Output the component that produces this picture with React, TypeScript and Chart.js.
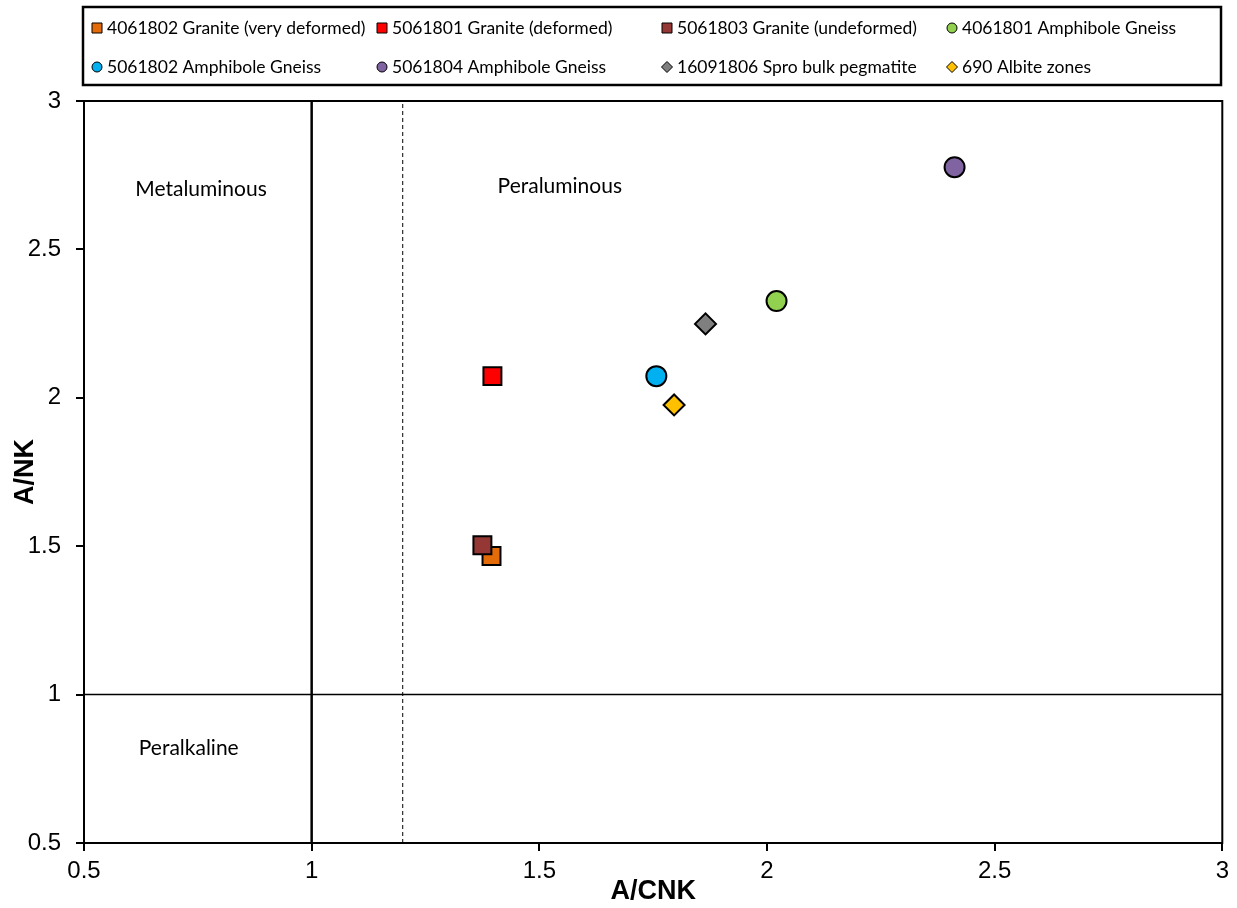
import React, { useEffect, useRef } from "react";
import { Chart, registerables } from "chart.js";

Chart.register(...registerables);

// ---- data ----
const seriesNames = [
  "4061802 Granite (very deformed)",
  "5061801 Granite (deformed)",
  "5061803 Granite (undeformed)",
  "4061801 Amphibole Gneiss",
  "5061802 Amphibole Gneiss",
  "5061804 Amphibole Gneiss",
  "16091806 Spro bulk pegmatite",
  "690 Albite zones",
];
const seriesX = [1.395, 1.397, 1.375, 2.021, 1.757, 2.412, 1.865, 1.796];
const seriesY = [1.467, 2.073, 1.503, 2.326, 2.073, 2.777, 2.249, 1.976];
const seriesColors = ["#E36C09", "#FF0000", "#953735", "#92D050", "#00B0F0", "#8064A2", "#7F7F7F", "#FFC000"];
const seriesShapes = ["rect", "rect", "rect", "circle", "circle", "circle", "rectRot", "rectRot"];
const seriesOrder = [1, 1, 0, 1, 1, 1, 1, 1];

const xTicks = [0.5, 1, 1.5, 2, 2.5, 3];
const yTicks = [0.5, 1, 1.5, 2, 2.5, 3];
const xTickLabels = ["0.5", "1", "1.5", "2", "2.5", "3"];
const yTickLabels = ["0.5", "1", "1.5", "2", "2.5", "3"];
const xTitle = "A/CNK";
const yTitle = "A/NK";

const regionLabels = ["Metaluminous", "Peraluminous", "Peralkaline"];
const regionLabelX = [0.757, 1.545, 0.73];
const regionLabelY = [2.704, 2.714, 0.82];

const solidBoundaryX = [1];
const dashedBoundaryX = [1.2];
const boundaryY = [1];

const legendColumns = 4;

// ---- drawing helpers ----
function drawShape(ctx: CanvasRenderingContext2D, shape: string, x: number, y: number, s: number, fill: string) {
  ctx.save();
  ctx.fillStyle = fill;
  ctx.strokeStyle = "#000";
  ctx.lineWidth = 1;
  ctx.beginPath();
  if (shape === "rect") {
    ctx.rect(x - s, y - s, 2 * s, 2 * s);
  } else if (shape === "circle") {
    ctx.arc(x, y, s, 0, Math.PI * 2);
  } else {
    ctx.moveTo(x, y - s - 0.5);
    ctx.lineTo(x + s + 0.5, y);
    ctx.lineTo(x, y + s + 0.5);
    ctx.lineTo(x - s - 0.5, y);
    ctx.closePath();
  }
  ctx.fill();
  ctx.stroke();
  ctx.restore();
}

const framePlugin = {
  id: "frame",
  beforeDatasetsDraw(chart: any) {
    const { ctx, chartArea } = chart;
    ctx.save();
    ctx.strokeStyle = "#000";
    ctx.lineWidth = 2;
    ctx.strokeRect(chartArea.left, chartArea.top, chartArea.right - chartArea.left, chartArea.bottom - chartArea.top);
    ctx.restore();
  },
};

const labelsPlugin = {
  id: "regionLabels",
  afterDatasetsDraw(chart: any) {
    const { ctx } = chart;
    const xs = chart.scales.x;
    const ys = chart.scales.y;
    ctx.save();
    ctx.fillStyle = "#000";
    ctx.font = "21px Lato";
    ctx.textAlign = "center";
    ctx.textBaseline = "middle";
    regionLabels.forEach((t, i) => {
      ctx.fillText(t, xs.getPixelForValue(regionLabelX[i]), ys.getPixelForValue(regionLabelY[i]));
    });
    ctx.restore();
  },
};

const legendPlugin = {
  id: "customLegend",
  afterDraw(chart: any) {
    const { ctx } = chart;
    const left = 83;
    const top = 7;
    const right = 1221;
    const bottom = 85;
    ctx.save();
    ctx.strokeStyle = "#000";
    ctx.lineWidth = 2.5;
    ctx.strokeRect(left, top, right - left, bottom - top);
    ctx.font = "17.5px Lato";
    ctx.fillStyle = "#000";
    ctx.textAlign = "left";
    ctx.textBaseline = "middle";
    const colW = 285;
    const rowY = [28, 67];
    seriesNames.forEach((name, i) => {
      const col = i % legendColumns;
      const row = Math.floor(i / legendColumns);
      const cx = 97 + col * colW;
      const cy = rowY[row];
      drawShape(ctx, seriesShapes[i], cx, cy, 5, seriesColors[i]);
      ctx.fillStyle = "#000";
      ctx.fillText(name, cx + 10, cy);
    });
    ctx.restore();
  },
};

function pointRadiusFor(shape: string) {
  if (shape === "rect") return 12.7;
  if (shape === "circle") return 10;
  return 10.5;
}

export default function App() {
  const ref = useRef<HTMLCanvasElement | null>(null);

  useEffect(() => {
    if (!ref.current) return;
    const scatterSets = seriesNames.map((name, i) => ({
      type: "scatter" as const,
      label: name,
      data: [{ x: seriesX[i], y: seriesY[i] }],
      pointStyle: seriesShapes[i],
      pointRadius: pointRadiusFor(seriesShapes[i]),
      pointHoverRadius: pointRadiusFor(seriesShapes[i]),
      backgroundColor: seriesColors[i],
      borderColor: "#000",
      borderWidth: 2,
      order: seriesOrder[i],
    }));
    const lineSets: any[] = [];
    solidBoundaryX.forEach((v) =>
      lineSets.push({
        type: "line",
        label: "boundary",
        data: [{ x: v, y: yTicks[0] }, { x: v, y: yTicks[yTicks.length - 1] }],
        borderColor: "#000",
        borderWidth: 2.5,
        pointRadius: 0,
        fill: false,
        order: 10,
      })
    );
    dashedBoundaryX.forEach((v) =>
      lineSets.push({
        type: "line",
        label: "boundary",
        data: [{ x: v, y: yTicks[0] }, { x: v, y: yTicks[yTicks.length - 1] }],
        borderColor: "#000",
        borderWidth: 1,
        borderDash: [4, 3],
        pointRadius: 0,
        fill: false,
        order: 10,
      })
    );
    boundaryY.forEach((v) =>
      lineSets.push({
        type: "line",
        label: "boundary",
        data: [{ x: xTicks[0], y: v }, { x: xTicks[xTicks.length - 1], y: v }],
        borderColor: "#000",
        borderWidth: 1.5,
        pointRadius: 0,
        fill: false,
        order: 10,
      })
    );

    const chart = new Chart(ref.current, {
      type: "scatter",
      data: { datasets: [...scatterSets, ...lineSets] as any },
      options: {
        responsive: false,
        animation: false,
        layout: { padding: { top: 101, right: 14, bottom: 0, left: 0 } },
        plugins: { legend: { display: false }, tooltip: { enabled: false } },
        scales: {
          x: {
            type: "linear",
            min: xTicks[0],
            max: xTicks[xTicks.length - 1],
            afterBuildTicks: (s: any) => {
              s.ticks = xTicks.map((v) => ({ value: v }));
            },
            ticks: {
              font: { family: "Liberation Sans", size: 24 },
              color: "#000",
              padding: 6,
              maxRotation: 0,
              callback: (_v: any, i: number) => xTickLabels[i],
            },
            grid: { drawOnChartArea: false, tickLength: 8, lineWidth: 2, color: "#000" },
            border: { color: "#000", width: 2 },
            title: {
              display: true,
              text: xTitle,
              font: { family: "Liberation Sans", size: 27, weight: "bold" },
              color: "#000",
              padding: 0,
            },
            afterFit: (s: any) => {
              s.height = 65;
            },
          },
          y: {
            type: "linear",
            min: yTicks[0],
            max: yTicks[yTicks.length - 1],
            afterBuildTicks: (s: any) => {
              s.ticks = yTicks.map((v) => ({ value: v }));
            },
            ticks: {
              font: { family: "Liberation Sans", size: 24 },
              color: "#000",
              padding: 15,
              callback: (_v: any, i: number) => yTickLabels[i],
            },
            grid: { drawOnChartArea: false, tickLength: 8, lineWidth: 2, color: "#000" },
            border: { color: "#000", width: 2 },
            title: {
              display: true,
              text: yTitle,
              font: { family: "Liberation Sans", size: 27, weight: "bold" },
              color: "#000",
              padding: 9,
            },
            afterFit: (s: any) => {
              s.width = 84;
            },
          },
        },
      },
      plugins: [framePlugin, labelsPlugin, legendPlugin],
    } as any);
    return () => chart.destroy();
  }, []);

  return (
    <div style={{ position: "fixed", left: 0, top: 0, width: 1237, height: 908, background: "#fff" }}>
      <canvas ref={ref} width={1237} height={908} style={{ display: "block" }} />
    </div>
  );
}
